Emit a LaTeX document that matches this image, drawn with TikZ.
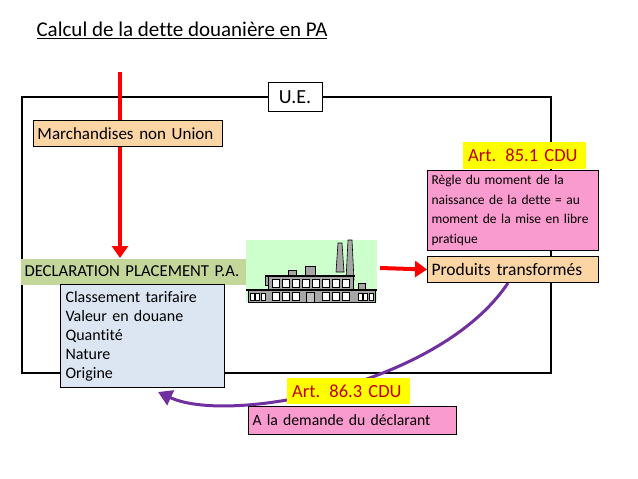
\documentclass[tikz,border=0pt]{standalone}
\usepackage{fontspec}
\setmainfont[Ligatures=NoCommon]{Carlito}
\usetikzlibrary{arrows.meta}
\definecolor{orangebox}{HTML}{FCD5A5}
\definecolor{olivebox}{HTML}{C4D79B}
\definecolor{bluebox}{HTML}{DCE6F2}
\definecolor{pinkbox}{HTML}{F99BCF}
\definecolor{yellowbox}{HTML}{FFFF00}
\definecolor{artred}{HTML}{C00000}
\definecolor{factgreen}{HTML}{CCFFCC}
\definecolor{purplearrow}{HTML}{7030A0}
\tikzset{
  box/.style={draw=black, line width=1pt, anchor=north west, align=left,
    inner xsep=4pt, inner ysep=0pt, font=\fontsize{17}{19}\selectfont},
  art/.style={fill=yellowbox, anchor=north west, text=artred, inner xsep=5pt,
    align=left, font=\fontsize{18.5}{22}\selectfont},
  redarrow/.style={red, line width=4pt, -{Triangle[length=12pt,width=16pt]}},
}
\begin{document}
\begin{tikzpicture}[x=1pt,y=-1pt]
		\useasboundingbox[fill=white] (0,0) rectangle (638,479);
		\node[anchor=west, font=\fontsize{21}{24}\selectfont] (titre) at (33,30) {\underline{Calcul de la dette douanière en PA}};
		\draw[line width=1.5pt] (22,97) rectangle (551,373);
		% courbe violette
		\coordinate (depart) at (508,283);
		\coordinate (arrivee) at (158,392);
		\draw[purplearrow, line width=3pt, -{Triangle[length=14pt,width=16pt]}] (depart) .. controls (440,385) and (230,425) .. (arrivee);
		% fleche d'entree
		\coordinate (entree) at (120,72);
		\coordinate (sortie) at (120,258);
		\draw[redarrow] (entree) -- (sortie);
		\node[box, fill=white, minimum width=54pt, minimum height=29pt, font=\fontsize{20}{22}\selectfont, align=center, anchor=center] (ue) at (295,97) {U.E.};
		\node[box, fill=orangebox, text width=181pt, minimum height=26pt] (marchandises) at (33,120) {Marchandises non Union};
		\node[box, fill=olivebox, draw=none, text width=226pt, minimum height=26pt, font=\fontsize{16.7}{19}\selectfont] (declaration) at (20,258) {DECLARATION PLACEMENT P.A.};
		\node[box, fill=bluebox, text width=154pt, minimum height=103pt, inner ysep=3pt, inner xsep=5pt, font=\fontsize{16}{19}\selectfont] (elements) at (60,284) {Classement tarifaire\\Valeur en douane\\Quantité\\Nature\\Origine};
		% usine
		\fill[factgreen] (246,240) rectangle (377,302);
		\begin{scope}[draw=black, fill=gray!70, line width=0.6pt]
		\filldraw (338,243) -- (342,243) -- (344,272) -- (336,272) -- cycle;
		\filldraw (348,240) -- (352,240) -- (354,280) -- (346,280) -- cycle;
		\filldraw (358,283) rectangle (365,292);
		\filldraw (265,275) rectangle (273,285);
		\filldraw (288,270) rectangle (296,276);
		\filldraw (305,266) rectangle (315,276);
		\filldraw (268,276) rectangle (353,302);
		\filldraw (248,290) rectangle (375,302);
		\end{scope}
		\draw[line width=1.5pt] (266,276) -- (355,276) (246,290) -- (377,290);
		\foreach \i in {0,...,7} {
			\draw[fill=white] (272+\i*10,279) rectangle (279+\i*10,287);
		}
		\foreach \i in {0,1,2,5,6,7} {
			\draw[fill=white] (272+\i*10,292) rectangle (279+\i*10,300);
		}
		\foreach \i in {0,1,2} {
			\draw[fill=white] (250+\i*5.5,293) rectangle (254+\i*5.5,300);
			\draw[fill=white] (358+\i*5.5,293) rectangle (362+\i*5.5,300);
		}
		\draw[fill=gray!50] (306,292) rectangle (314,302);
		\coordinate (usine) at (380,268);
		\node[box, fill=orangebox, text width=163pt, minimum height=26pt, font=\fontsize{17.5}{22}\selectfont] (produits) at (427,256) {Produits transformés};
		\node[box, fill=pinkbox, text width=163pt, minimum height=80pt, font=\fontsize{13.5}{19.5}\selectfont, inner ysep=3pt] (regle) at (427,170) {Règle du moment de la\\naissance de la dette = au\\moment de la mise en libre\\pratique};
		\draw[redarrow] (usine) -- (produits.west);
		\node[art, text width=113pt, minimum height=27pt] (art851) at (463,142) {Art. 85.1 CDU};
		\node[art, text width=113pt, minimum height=26pt] (art863) at (287,378) {Art. 86.3 CDU};
		\node[box, fill=pinkbox, text width=200pt, minimum height=28pt, font=\fontsize{15.7}{19}\selectfont] (demande) at (248,406) {A la demande du déclarant};
\end{tikzpicture}
\end{document}
